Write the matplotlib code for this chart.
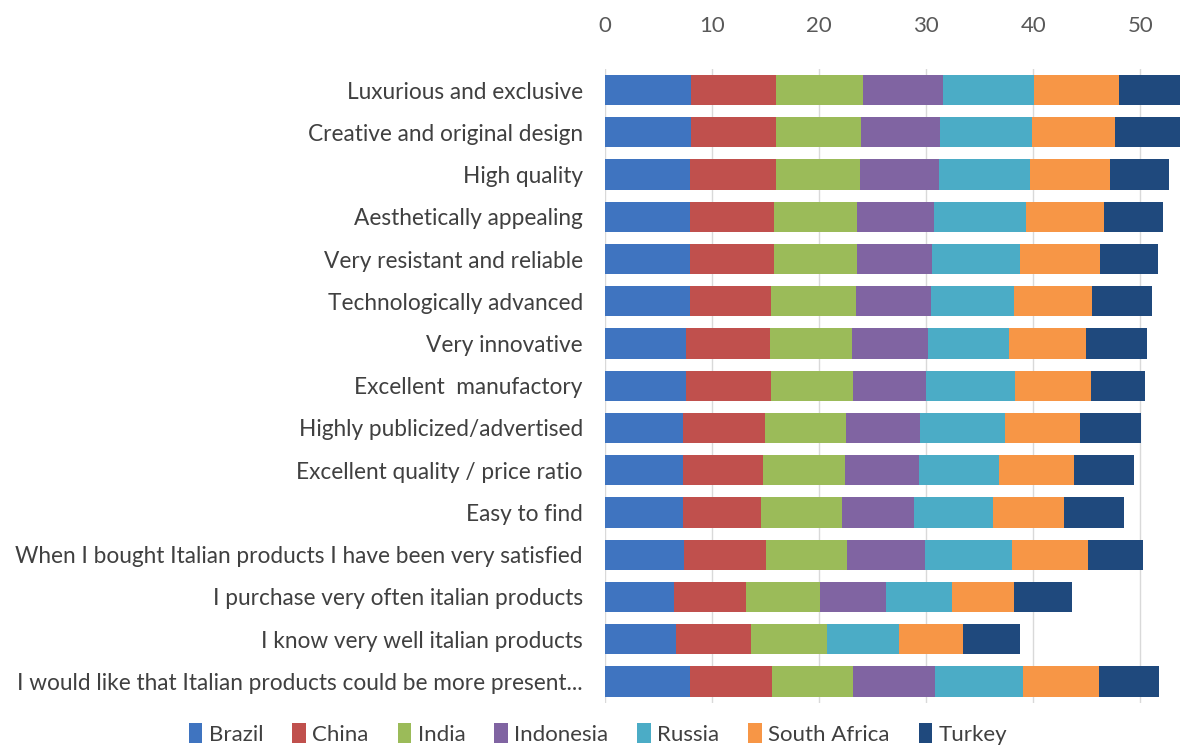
import numpy as np
import matplotlib.pyplot as plt

plt.rcParams['font.family'] = ['Lato', 'DejaVu Sans']

labels = ['Luxurious and exclusive',
          'Creative and original design',
          'High quality',
          'Aesthetically appealing',
          'Very resistant and reliable',
          'Technologically advanced',
          'Very innovative',
          'Excellent  manufactory',
          'Highly publicized/advertised',
          'Excellent quality / price ratio',
          'Easy to find',
          'When I bought Italian products I have been very satisfied',
          'I purchase very often italian products',
          'I know very well italian products',
          'I would like that Italian products could be more present...']

countries = ['Brazil', 'China', 'India', 'Indonesia', 'Russia', 'South Africa', 'Turkey']

brazil    = [8.0, 8.0, 7.9, 7.9, 7.9, 7.9, 7.6, 7.6, 7.3, 7.3, 7.3, 7.4, 6.4, 6.6, 7.9]
china     = [8.0, 8.0, 8.1, 7.9, 7.9, 7.6, 7.8, 7.9, 7.6, 7.5, 7.3, 7.6, 6.8, 7.0, 7.7]
india     = [8.1, 7.9, 7.8, 7.7, 7.7, 7.9, 7.7, 7.7, 7.6, 7.6, 7.5, 7.6, 6.9, 7.1, 7.6]
indonesia = [7.5, 7.4, 7.4, 7.2, 7.0, 7.0, 7.1, 6.8, 6.9, 6.9, 6.8, 7.3, 6.1, 0.0, 7.6]
russia    = [8.5, 8.6, 8.5, 8.6, 8.3, 7.8, 7.5, 8.3, 8.0, 7.5, 7.3, 8.1, 6.2, 6.8, 8.2]
s_africa  = [7.9, 7.7, 7.5, 7.3, 7.4, 7.3, 7.2, 7.1, 7.0, 7.0, 6.7, 7.1, 5.8, 5.9, 7.1]
turkey    = [6.0, 6.1, 5.5, 5.5, 5.4, 5.6, 5.7, 5.0, 5.7, 5.6, 5.6, 5.1, 5.4, 5.4, 5.6]

series = [brazil, china, india, indonesia, russia, s_africa, turkey]
colors = ['#3F74C0', '#C0504D', '#9BBB59', '#8064A2', '#4BACC6', '#F79646', '#1F497D']

fig = plt.figure(figsize=(11.8, 7.49), dpi=100)
ax = fig.add_axes([0.5127, 0.062, 0.4873, 0.846])

y = np.arange(len(labels))
left = np.zeros(len(labels))
for vals, name, c in zip(series, countries, colors):
    ax.barh(y, vals, left=left, height=0.72, color=c, label=name, zorder=2)
    left += np.array(vals)

ax.set_xlim(0, 53.7)
ax.set_ylim(len(labels) - 0.5, -0.5)
ax.set_yticks(y)
ax.set_yticklabels(labels, fontsize=16.3, color='#404040')
ax.set_xticks([0, 10, 20, 30, 40, 50])
ax.xaxis.tick_top()
ax.tick_params(axis='x', length=0, pad=24, labelsize=16, labelcolor='#595959')
ax.tick_params(axis='y', length=0, pad=16)
ax.grid(axis='x', color='#D9D9D9', linewidth=1, zorder=0)
for s in ax.spines.values():
    s.set_visible(False)

ax.legend(loc='center', bbox_to_anchor=(0.507, 0.02),
          bbox_transform=fig.transFigure, ncol=7, frameon=False,
          fontsize=16, handlelength=0.6, handleheight=1.0,
          handletextpad=0.3, columnspacing=1.3, labelcolor='#404040',
          borderpad=0.1)

fig.savefig('out.png', dpi=100)
